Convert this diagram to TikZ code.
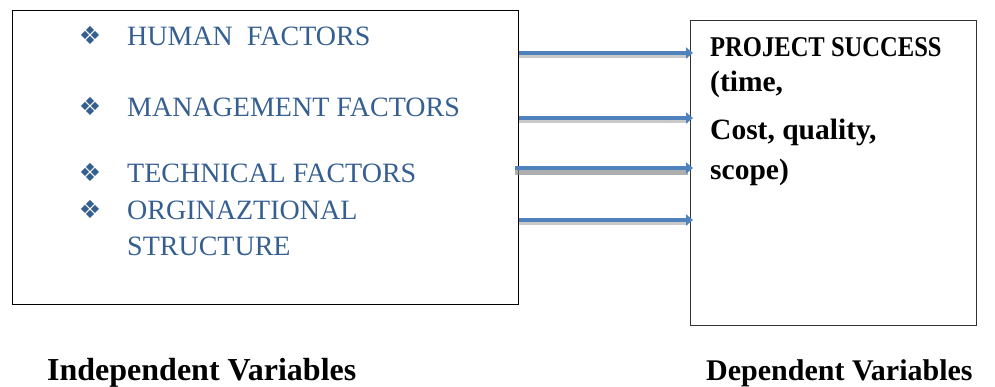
\documentclass[tikz,border=0pt]{standalone}
\usepackage{fontspec}
\usepackage{graphicx}
\setmainfont{Liberation Serif}
\newfontfamily\symfont{DejaVu Sans}
\usetikzlibrary{arrows.meta}
\definecolor{factorblue}{RGB}{54,95,145}
\definecolor{arrowblue}{RGB}{79,129,189}
\tikzset{
  box/.style={draw=black, line width=1pt, inner sep=0pt},
  factor/.style={anchor=base west, inner sep=0pt, text=factorblue, font=\fontsize{28}{32}\selectfont},
  bul/.style={anchor=base, inner sep=0pt, text=factorblue, font=\symfont\fontsize{25}{30}\selectfont},
  dep/.style={anchor=base west, inner sep=0pt, font=\bfseries\fontsize{27}{32}\selectfont},
  deplow/.style={anchor=base west, inner sep=0pt, font=\bfseries\fontsize{29.5}{34}\selectfont},
  caption/.style={anchor=base west, inner sep=0pt, font=\bfseries\fontsize{32}{36}\selectfont},
  shadowarrow/.style={draw=black!30, line width=4.5pt, opacity=0.7},
  flowarrow/.style={draw=arrowblue, line width=4pt, -{Triangle[width=11pt,length=7pt]}},
}
\newcommand{\capsbold}[1]{\scalebox{0.91}[1.06]{#1}}
\begin{document}
\begin{tikzpicture}[x=1pt,y=-1pt]
\useasboundingbox (0,0) rectangle (995,387);
% boxes
\node[box, minimum width=506pt, minimum height=294pt, anchor=north west] (L) at (12,10) {};
\node[box, draw=black!80, minimum width=286pt, minimum height=305pt, anchor=north west] (R) at (690,20) {};
% left factors
\node[bul] (b1) at (90,45) {❖};
\node[factor] (f1) at (127,46) {HUMAN\ \ FACTORS};
\node[bul] (b2) at (90,116) {❖};
\node[factor] (f2) at (127,117) {MANAGEMENT FACTORS};
\node[bul] (b3) at (90,182) {❖};
\node[factor] (f3) at (127,183) {TECHNICAL FACTORS};
\node[bul] (b4) at (90,219) {❖};
\node[factor] (f4) at (127,220) {ORGINAZTIONAL};
\node[factor] (f5) at (127,255) {STRUCTURE};
% right text
\node[dep] (d1) at (710,57) {\capsbold{PROJECT SUCCESS}};
\node[deplow] (d2) at (710,92) {(time,};
\node[deplow] (d3) at (710,140) {Cost, quality,};
\node[deplow] (d4) at (710,180) {scope)};
% captions
\node[caption] (c1) at (47,380) {Independent Variables};
\node[caption, font=\bfseries\fontsize{30}{34}\selectfont] (c2) at (706,380) {Dependent Variables};
% arrows
\foreach \i/\y in {1/53,2/118,3/168,4/220}{
  \coordinate (s\i) at (L.east |- 0,\y);
  \coordinate (e\i) at ([xshift=3pt]R.west |- 0,\y);
}
\draw[shadowarrow] ([shift={(0,3)}]s1) -- ([shift={(-5,3)}]e1);
\draw[shadowarrow] ([shift={(0,3)}]s2) -- ([shift={(-5,3)}]e2);
\draw[shadowarrow, draw=black!45, line width=6pt] ([shift={(-4,4)}]s3) -- ([shift={(-5,4)}]e3);
\draw[shadowarrow] ([shift={(0,3)}]s4) -- ([shift={(-5,3)}]e4);
\draw[flowarrow] (s1) -- (e1);
\draw[flowarrow] (s2) -- (e2);
\draw[flowarrow] ([xshift=-4pt]s3) -- (e3);
\draw[flowarrow] (s4) -- (e4);
\end{tikzpicture}
\end{document}
